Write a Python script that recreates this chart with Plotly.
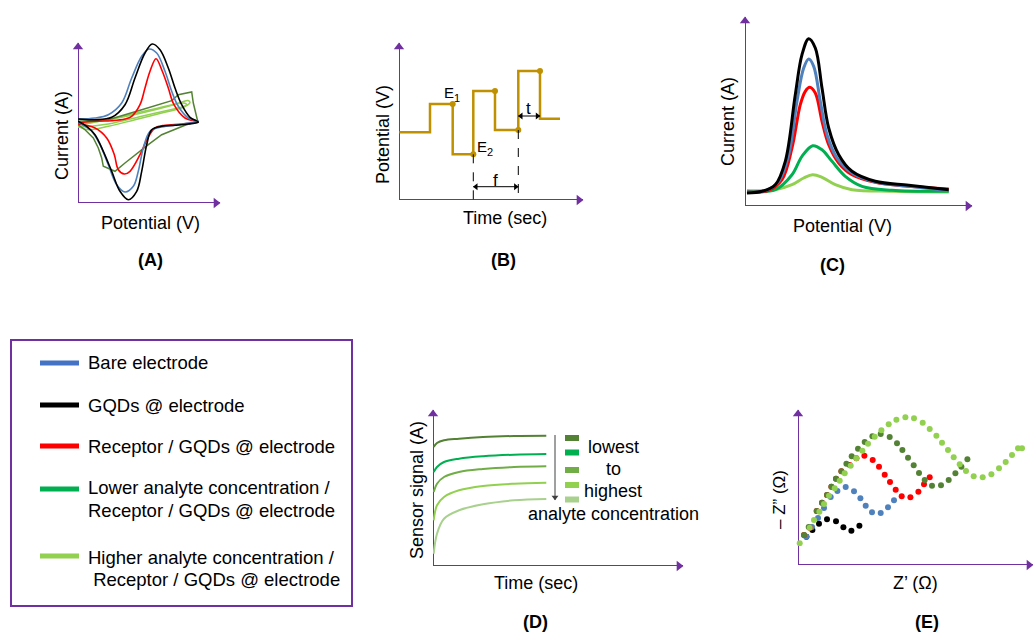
import plotly.graph_objects as go

FIG_W, FIG_H = 1033, 632
FONT = "Arial, Liberation Sans, sans-serif"
PURPLE = "#7030A0"
BLUE = "#4F81BD"
BLUE_LEG = "#4472C4"
RED = "#FF0000"
GREEN = "#00B050"
LGREEN = "#92D050"
OLIVE = "#548235"
MGREEN = "#70AD47"
PGREEN = "#A9D18E"
GOLD = "#BF9000"

# ---------------- Panel A : cyclic voltammetry (arbitrary units) -------------
cv_bare_x = [0, 17, 30.3, 43.7, 53.7, 63.7, 71, 78.7, 87, 93.7, 100.3, 110.3, 120.3,
             110.3, 97, 82, 72, 65.3, 60.3, 55.3, 47, 38.7, 30.3, 22, 13.7, 5.3, 0]
cv_bare_y = [84, 85, 88.3, 100, 125, 146.7, 154, 150, 131.7, 111.7, 96.7, 85, 81.7,
             80, 77.7, 75.7, 71.7, 55, 31.7, 16.7, 11, 18.3, 38.3, 58.3, 71.7, 77.7, 81]
cv_gqd_x = [0, 17, 33.7, 47, 57, 67, 74.3, 82, 90.3, 97, 103.7, 112, 120.3,
            110.3, 97, 83.7, 73.7, 68.7, 63.7, 58.7, 50.3, 42, 33.7, 25.3, 17, 8.7, 0]
cv_gqd_y = [84, 83.3, 85.7, 98.3, 125, 150, 159, 153.3, 135, 115, 98.3, 85.7, 81,
            79, 77.7, 76.7, 73.3, 58.3, 31.7, 11.7, 3.3, 11.7, 31.7, 51.7, 68.3, 76.7, 81.7]
cv_rec_x = [0, 17, 33.7, 47, 53.7, 62, 67, 72, 78, 84.3, 90.3, 96, 107, 120.3,
            103.7, 87, 77, 69.7, 62, 52, 46.3, 40.3, 36.3, 28.7, 17, 0]
cv_rec_y = [80, 81.7, 82.3, 84, 86.7, 98.3, 115, 131.7, 144.3, 131.7, 115, 98.3, 85, 81,
            79, 77.7, 75, 65, 48.3, 31.7, 29, 33.3, 48.3, 65, 75, 79]
cv_low_x = [0, 30.3, 63.7, 80.3, 93.7, 100.3, 113.7, 115.3, 117.7, 119.7,
            107, 95.3, 83.7, 70.3, 57, 47, 37, 25.3, 23.7, 20.3, 15.3, 7, 0]
cv_low_y = [81.7, 83.3, 93.3, 98.3, 102.3, 108.3, 111, 100, 88.3, 81.7,
            77.7, 73.3, 68.3, 58.3, 48.3, 40, 31.7, 36.7, 45, 55, 65, 73.3, 78.3]
cv_high1_x = [0, 30.3, 63.7, 90.3, 104, 110, 112, 109, 103.7, 83.7, 57, 30.3, 10.3, 0]
cv_high1_y = [79, 83.3, 90, 96.7, 101, 102.5, 100.5, 97.5, 95, 90, 83.3, 76.7, 73.3, 76.7]
cv_high2_x = [0, 37, 80.3, 101, 107, 108.7, 104, 97, 63.7, 30.3, 0]
cv_high2_y = [77.7, 85, 95, 99.5, 99.8, 98.3, 96, 94.3, 86.7, 79, 75.7]

# ---------------- Panel B : square wave potential ----------------------------
sw_t = [0.3, 31, 31, 53.7, 53.7, 74.3, 74.3, 96, 96, 119.3, 119.3, 141, 141, 161]
sw_v = [67.7, 67.7, 96, 96, 45.7, 45.7, 109, 109, 70, 70, 129, 129, 81.3, 81.3]
sw_dot_idx = [3, 5, 7, 9, 11]

# ---------------- Panel C : DPV peaks ----------------------------------------
dpv_gqd_x = [2, 17, 30.3, 40.3, 50.3, 57, 63.7, 70.3, 77, 83.7, 93.7, 107, 130.3, 163.7, 203.7]
dpv_gqd_y = [13, 14.7, 21.3, 44.7, 111.3, 151.3, 167.3, 158, 118, 78, 51.3, 34.7, 24.7, 20.7, 16.3]
dpv_bare_x = [2, 20.3, 33.7, 43.7, 52, 58.7, 63.7, 68.7, 75.3, 82, 92, 107, 130.3, 163.7, 203.7]
dpv_bare_y = [14, 15.3, 24.7, 51.3, 104.7, 138, 147, 139.7, 104.7, 71.3, 48, 33, 24, 19.7, 15.3]
dpv_rec_x = [2, 23.7, 37, 47, 55.3, 60.3, 64.7, 70.3, 77, 83.7, 93.7, 107, 130.3, 163.7, 203.7]
dpv_rec_y = [14, 15.7, 26.3, 58, 101.3, 114.7, 118.7, 113, 84.7, 61.3, 43, 31.3, 23.7, 19.7, 17]
dpv_low_x = [2, 30.3, 47, 57, 67.7, 77, 87, 100.3, 117, 147, 203.7]
dpv_low_y = [14.7, 16.3, 31.3, 49.7, 60.3, 56.3, 44.7, 29.7, 19.7, 15.7, 14.7]
dpv_high_x = [2, 30.3, 47, 58.7, 67.7, 77, 90.3, 107, 147, 203.7]
dpv_high_y = [15.3, 16.3, 21.3, 28, 31.3, 28.7, 21.3, 16.3, 14.7, 14]

# ---------------- Panel D : sensor signal vs time ----------------------------
amp_t = [0.7, 4, 11, 26, 50, 81, 113.3]
amp_series = [
    [119, 123, 125.7, 127.3, 129, 130, 130.3],
    [94, 99, 104, 107.3, 109.7, 111.3, 112],
    [74, 82.3, 89, 94, 97, 99, 99.7],
    [45.7, 60.7, 69, 75.7, 80, 82.3, 83.3],
    [12.3, 32.3, 47.3, 55.7, 61.7, 65.7, 67],
]
amp_colors = [OLIVE, GREEN, MGREEN, LGREEN, PGREEN]
amp_key_labels = ["lowest", "to", "highest", "analyte concentration"]

# ---------------- Panel E : Nyquist plots ------------------------------------
eis_gqd_x = [8.4, 14.4, 21, 29, 38, 45.4, 53.4, 61.4]
eis_gqd_y = [28.3, 35, 41.3, 45.7, 43.7, 37.7, 34.3, 39.3]
eis_bare_x = [8.4, 14, 20, 26, 32.7, 39.4, 47.7, 56, 62.4, 67.7, 74, 82.7, 90, 96]
eis_bare_y = [28.3, 38, 47, 57, 68, 74, 78, 73.7, 66.7, 59.3, 52.7, 52, 57.7, 64.7]
eis_rec_x = [6, 11.7, 18.7, 24, 29, 33.4, 38, 43.4, 51.7, 58.4, 66.4, 74.7, 81, 86.7,
             92, 97.7, 103.7, 112.4, 120.4, 126, 131.7]
eis_rec_y = [30, 37.3, 54, 62.3, 70, 78.3, 86.3, 93.7, 100, 106.7, 109.3, 105, 98.3, 90.3,
             83, 75.3, 68.7, 67.7, 73.3, 80.7, 87.7]
eis_low_x = [6, 10.7, 18.7, 24, 29, 33.4, 38, 43.4, 48.4, 53.7, 60, 66.7, 74.4, 82.7, 91.7,
             99, 104.4, 110, 115.7, 121, 126.7, 134, 143, 150.7, 157.4, 163.4, 169.4]
eis_low_y = [30, 38, 54, 62.3, 70, 78.3, 86.3, 93.7, 101.3, 108.7, 116.3, 123, 128.7, 131, 128,
             121.7, 115, 107.3, 99.7, 92, 85, 79.3, 79.7, 85, 91.7, 98.3, 105.7]
eis_high_x = [1.7, 11.7, 16, 21.4, 26, 31, 36.7, 41.7, 46.7, 52.7, 58.4, 64.4, 70, 76.7, 83.4,
              90.7, 98.4, 107.4, 116, 124.7, 131.7, 138.4, 144, 150, 155.7, 161.7, 168, 175.7,
              184.7, 193.4, 201, 207.7, 214, 220, 224]
eis_high_y = [21.7, 37.3, 45, 53.3, 61, 69.3, 76.7, 84.3, 91.7, 99.3, 106.7, 114.3, 121.3, 128.3,
              134.7, 140.7, 145.3, 147.7, 146.7, 142.3, 136, 129.3, 122.3, 115, 107.7, 100.7, 94,
              88.7, 87.7, 90.7, 96.7, 103, 110, 116.7, 116.7]

# ---------------- Legend ------------------------------------------------------
legend_colors = [BLUE_LEG, "#000000", RED, GREEN, LGREEN]
legend_labels = [["Bare electrode"], ["GQDs @ electrode"], ["Receptor / GQDs @ electrode"],
                 ["Lower analyte concentration /", "Receptor / GQDs @ electrode"],
                 ["Higher analyte concentration /", " Receptor / GQDs @ electrode"]]

# panel boxes in pixels: origin x, origin y, width, height
panels = {
    1: (78, 203, 142, 160),
    2: (399, 200, 184, 157),
    3: (745, 206, 227, 189),
    4: (433, 566, 250, 156),
    5: (798, 565, 235, 155),
}


def px(x):
    return x / FIG_W


def py(y):
    return 1 - y / FIG_H


fig = go.Figure()
layout_axes = {}
for n, (ox, oy, w, h) in panels.items():
    sfx = "" if n == 1 else str(n)
    layout_axes["xaxis" + sfx] = dict(domain=[px(ox), px(ox + w)], range=[0, w], visible=False,
                                      anchor="y" + sfx, fixedrange=True)
    layout_axes["yaxis" + sfx] = dict(domain=[py(oy), py(oy - h)], range=[0, h], visible=False,
                                      anchor="x" + sfx, fixedrange=True)


def ax_ids(n):
    sfx = "" if n == 1 else str(n)
    return "x" + sfx, "y" + sfx


def add_line(n, x, y, color, width, shape="spline", dash=None):
    xa, ya = ax_ids(n)
    fig.add_trace(go.Scatter(x=x, y=y, mode="lines", xaxis=xa, yaxis=ya,
                             line=dict(color=color, width=width, shape=shape, dash=dash,
                                       smoothing=1.0),
                             cliponaxis=False, showlegend=False, hoverinfo="skip"))


def add_dots(n, x, y, color, size=6, symbol="circle"):
    xa, ya = ax_ids(n)
    fig.add_trace(go.Scatter(x=x, y=y, mode="markers", xaxis=xa, yaxis=ya,
                             marker=dict(color=color, size=size, symbol=symbol,
                                         line=dict(width=0)),
                             cliponaxis=False, showlegend=False, hoverinfo="skip"))


def arrow(n, x0, y0, x1, y1, color, width, head, both=False):
    """straight axis-aligned arrow from (x0,y0) to (x1,y1) with triangle head(s)"""
    add_line(n, [x0, x1], [y0, y1], color, width, shape="linear")
    off = head * 0.45
    if x0 == x1:
        sgn = 1 if y1 > y0 else -1
        pts = [(x1, y1 - sgn * off, "triangle-up" if sgn > 0 else "triangle-down")]
        if both:
            pts.append((x0, y0 + sgn * off, "triangle-down" if sgn > 0 else "triangle-up"))
    else:
        sgn = 1 if x1 > x0 else -1
        pts = [(x1 - sgn * off, y1, "triangle-right" if sgn > 0 else "triangle-left")]
        if both:
            pts.append((x0 + sgn * off, y0, "triangle-left" if sgn > 0 else "triangle-right"))
    for (xx, yy, sym) in pts:
        add_dots(n, [xx], [yy], color, size=head, symbol=sym)


# purple axis arrows
for n, (ox, oy, w, h) in panels.items():
    arrow(n, 0, 0, w, 0, PURPLE, 2, 9)
    arrow(n, 0, 0, 0, h, PURPLE, 2, 9)

# Panel A
add_line(1, cv_high1_x, cv_high1_y, LGREEN, 1.5)
add_line(1, cv_high2_x, cv_high2_y, LGREEN, 1.5)
add_line(1, cv_low_x, cv_low_y, OLIVE, 1.5, shape="linear")
add_line(1, cv_rec_x, cv_rec_y, RED, 1.6)
add_line(1, cv_bare_x, cv_bare_y, BLUE, 1.6)
add_line(1, cv_gqd_x, cv_gqd_y, "#000000", 1.6)

# Panel B
add_line(2, sw_t, sw_v, GOLD, 2.5, shape="linear")
add_dots(2, [sw_t[i] for i in sw_dot_idx], [sw_v[i] for i in sw_dot_idx], GOLD, 6)
e2_t, e2_v = sw_t[5], sw_v[5]
lo_t, lo_v = sw_t[9], sw_v[9]
hi_end_t = sw_t[11]
for (t0, v0) in [(e2_t, e2_v), (lo_t, lo_v)]:
    add_line(2, [t0, t0], [v0, 0], "#000000", 1, shape="linear", dash="dash")
arrow(2, e2_t, 13.3, lo_t, 13.3, "#000000", 1, 6, both=True)
arrow(2, lo_t, 84, hi_end_t, 84, "#000000", 1, 6, both=True)

# Panel C
add_line(3, dpv_high_x, dpv_high_y, LGREEN, 3)
add_line(3, dpv_low_x, dpv_low_y, GREEN, 3)
add_line(3, dpv_rec_x, dpv_rec_y, RED, 3)
add_line(3, dpv_bare_x, dpv_bare_y, BLUE, 3)
add_line(3, dpv_gqd_x, dpv_gqd_y, "#000000", 3)

# Panel D
for ser, col in zip(amp_series, amp_colors):
    add_line(4, amp_t, ser, col, 2)
arrow(4, 122, 131, 122, 66, "#404040", 1, 6)

# Panel E
add_dots(5, eis_gqd_x, eis_gqd_y, "#000000")
add_dots(5, eis_bare_x, eis_bare_y, BLUE)
add_dots(5, eis_rec_x, eis_rec_y, RED)
add_dots(5, eis_low_x, eis_low_y, OLIVE)
add_dots(5, eis_high_x, eis_high_y, LGREEN)

annotations = []
shapes = []


def txt(x, y, s, size=18, angle=0, bold=False, xanchor="center", color="#000000"):
    annotations.append(dict(x=px(x), y=py(y), xref="paper", yref="paper", text=s,
                            showarrow=False, textangle=angle, xanchor=xanchor, yanchor="middle",
                            font=dict(family=FONT, size=size, color=color,
                                      weight="bold" if bold else "normal")))


# Panel labels
txt(62, 136, "Current (A)", angle=-90)
txt(150, 223, "Potential (V)")
txt(150, 260, "(A)", bold=True)
txt(383, 135, "Potential (V)", angle=-90)
txt(505, 218, "Time (sec)")
txt(503, 260, "(B)", bold=True)
txt(728, 122, "Current (A)", angle=-90)
txt(842, 226, "Potential (V)")
txt(832, 265, "(C)", bold=True)
txt(417, 490, "Sensor signal (A)", angle=-90)
txt(536, 583, "Time (sec)")
txt(535, 622, "(D)", bold=True)
txt(779, 500, "\u2013 Z\u201d (\u03a9)", angle=-90, size=17)
txt(915, 583, "Z\u2019 (\u03a9)")
txt(927, 622, "(E)", bold=True)

# Panel B text
txt(495, 181, "f", size=17)
txt(528, 108, "t", size=17)
txt(449, 92, "E", size=15)
txt(457, 98, "1", size=11)
txt(482, 146, "E", size=15)
txt(490, 152, "2", size=11)

# Panel D key
key_y = [438, 452.5, 470, 485, 499.5]
for yy, col in zip(key_y, amp_colors):
    shapes.append(dict(type="rect", xref="paper", yref="paper", x0=px(565), x1=px(579),
                       y0=py(yy - 3), y1=py(yy + 3), fillcolor=col, line=dict(width=0)))
for yy, s in zip([447, 469, 491, 514], amp_key_labels):
    txt(613, yy, s)

# Legend box
shapes.append(dict(type="rect", xref="paper", yref="paper", x0=px(11), x1=px(352),
                   y0=py(606), y1=py(340), line=dict(color=PURPLE, width=2),
                   fillcolor="rgba(0,0,0,0)"))
leg_line_y = [363, 405, 446, 489, 556]
leg_text_y = [[363], [405], [446], [487, 510], [557, 579]]
for col, ly, labs, tys in zip(legend_colors, leg_line_y, legend_labels, leg_text_y):
    shapes.append(dict(type="line", xref="paper", yref="paper", x0=px(40), x1=px(79),
                       y0=py(ly), y1=py(ly), line=dict(color=col, width=5)))
    for s, ty in zip(labs, tys):
        txt(86, ty, s, size=18.5, xanchor="left")

fig.update_layout(width=FIG_W, height=FIG_H, autosize=False,
                  margin=dict(l=0, r=0, t=0, b=0),
                  paper_bgcolor="white", plot_bgcolor="white",
                  showlegend=False, annotations=annotations, shapes=shapes,
                  **layout_axes)

fig.write_html("out.html", config={"displayModeBar": False},
               post_script="document.body.style.margin='0px';document.body.style.overflow='hidden';")
